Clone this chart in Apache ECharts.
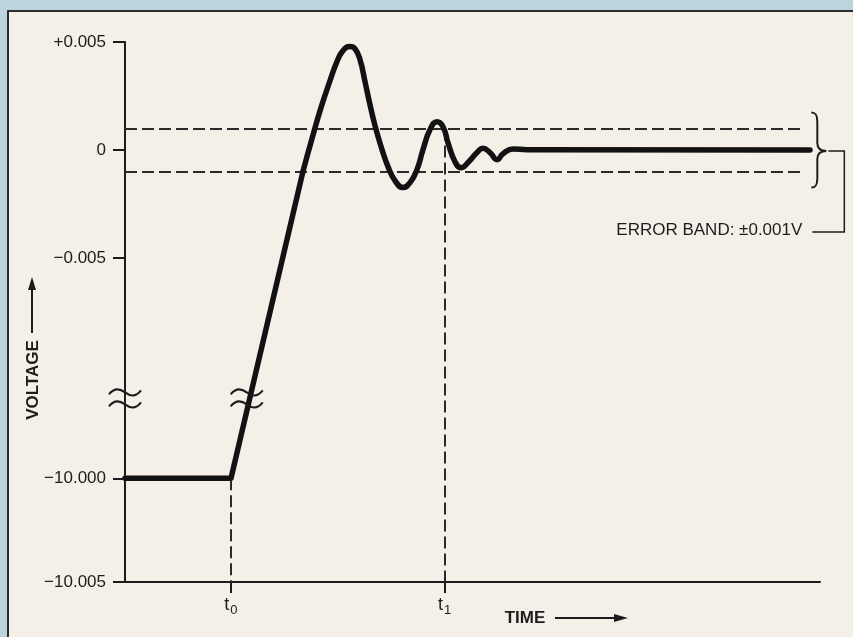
<!DOCTYPE html>
<html><head><meta charset="utf-8">
<script src="https://cdn.jsdelivr.net/npm/echarts@6/dist/echarts.min.js"></script>
<style>html,body{margin:0;padding:0;background:#bcd5dc;}#c{width:853px;height:637px;}</style>
</head><body><div id="c"></div>
<script>
// ---- data (time in arbitrary units 0..100, voltage in volts) ----
const yTickVolts = [-10.005, -10.000, -0.005, 0, 0.005];
const yTickLabels = ['\u221210.005', '\u221210.000', '\u22120.005', '0', '+0.005'];
const xMarkTimes = [15.25, 46.0];                     // t0, t1
const xMarkSubs = ['0', '1'];
const rampTimes = [0, 15.25, 25.6];
const rampVolts = [-10.000, -10.000, -0.0010];
const settleTimes = [25.6, 26.91, 28.2, 29.5, 30.5, 31.37, 32.37, 33.09, 33.81, 34.53, 35.25, 35.97, 36.98, 37.84, 38.85, 40.0, 41.01, 42.01, 42.88, 43.88, 44.89, 45.76, 46.47, 47.48, 48.35, 49.35, 50.65, 51.51, 52.52, 53.53, 54.39, 55.83, 57.84, 98.56];
const settleVolts = [-0.0010, 0.00053, 0.00196, 0.00321, 0.00409, 0.0046, 0.00479, 0.00469, 0.00419, 0.00317, 0.0021, 0.00113, 0.00002, -0.00077, -0.00142, -0.00174, -0.00151, -0.00091, 0.00002, 0.00094, 0.00131, 0.00108, 0.00034, -0.00054, -0.00082, -0.00058, -0.00012, 0.00008, -0.00012, -0.00045, -0.00017, 0.00005, 0.00001, 0];
const errorBand = 0.001;
const bandEndTime = 97.6;
const bandLabel = 'ERROR BAND: \u00b10.001V';
const breakLevel = -11.5; // display-scale position of the axis break

// broken scale: values near 0 in mV, values near -10 V placed below the break
function toAxis(v) { return v > -1 ? v * 1000 : -15.2 + (v + 10) * 1000 * 0.96; }

const FONT = '"Liberation Sans", Arial, Helvetica, sans-serif';
const INK = '#1c1c1c';

const yTickValues = yTickVolts.map(toAxis);
const rampData = rampTimes.map((t, i) => [t, toAxis(rampVolts[i])]);
const settleData = settleTimes.map((t, i) => [t, toAxis(settleVolts[i])]);
const r1 = rampData[1], r2 = rampData[2];
const breakTime = r1[0] + (breakLevel - r1[1]) / (r2[1] - r1[1]) * (r2[0] - r1[0]);
const axisMin = toAxis(yTickVolts[0]);

const dash = { type: [12, 5], width: 2, color: '#2a2a2a' };

const chart = echarts.init(document.getElementById('c'), null, { renderer: 'canvas' });
chart.setOption({
  animation: false,
  backgroundColor: 'transparent',
  grid: { left: 125, right: 33, top: 42, bottom: 55 },
  xAxis: {
    type: 'value', min: 0, max: 100,
    axisLine: { show: true, onZero: false, lineStyle: { color: INK, width: 2 } },
    splitLine: { show: false },
    axisTick: { show: true, customValues: xMarkTimes, length: 11, lineStyle: { color: INK, width: 2 } },
    axisLabel: {
      show: true, customValues: xMarkTimes, margin: 12,
      formatter: function (val) {
        const i = xMarkTimes.findIndex(x => Math.abs(x - val) < 1e-6);
        return '{t|t}{s|' + (i >= 0 ? xMarkSubs[i] : '') + '}';
      },
      rich: {
        t: { fontSize: 18, fontFamily: FONT, color: INK },
        s: { fontSize: 13, fontFamily: FONT, color: INK, padding: [10, 0, 0, 1] }
      }
    }
  },
  yAxis: {
    type: 'value', min: axisMin, max: toAxis(yTickVolts[4]),
    axisLine: { show: true, onZero: false, lineStyle: { color: INK, width: 2 } },
    splitLine: { show: false },
    axisTick: { show: true, customValues: yTickValues, length: 12, lineStyle: { color: INK, width: 2 } },
    axisLabel: {
      show: true, customValues: yTickValues, margin: 19,
      fontSize: 17, fontFamily: FONT, color: INK,
      formatter: function (val) {
        const i = yTickValues.findIndex(x => Math.abs(x - val) < 1e-6);
        return i >= 0 ? yTickLabels[i] : '';
      }
    }
  },
  graphic: [
    { type: 'rect', z: -10, shape: { x: 8, y: 11, width: 845, height: 626 }, style: { fill: '#f4f0e8' } },
    { type: 'line', z: -5, shape: { x1: 7, y1: 11, x2: 853, y2: 11 }, style: { stroke: '#2c2c2c', lineWidth: 2 } },
    { type: 'line', z: -5, shape: { x1: 8, y1: 10, x2: 8, y2: 637 }, style: { stroke: '#2c2c2c', lineWidth: 2 } },
    { type: 'text', x: 33, y: 380, rotation: Math.PI / 2,
      style: { text: 'VOLTAGE', font: 'bold 17px ' + FONT, fill: INK, align: 'center', verticalAlign: 'middle' } },
    { type: 'line', shape: { x1: 32, y1: 333, x2: 32, y2: 286 }, style: { stroke: INK, lineWidth: 2 } },
    { type: 'polygon', shape: { points: [[32, 277], [28, 290], [36, 290]] }, style: { fill: INK } },
    { type: 'text', x: 525, y: 618,
      style: { text: 'TIME', font: 'bold 17px ' + FONT, fill: INK, align: 'center', verticalAlign: 'middle' } },
    { type: 'line', shape: { x1: 555, y1: 618, x2: 616, y2: 618 }, style: { stroke: INK, lineWidth: 2 } },
    { type: 'polygon', shape: { points: [[628, 618], [614, 614], [614, 622]] }, style: { fill: INK } }
  ],
  series: [
    {
      type: 'line', name: 'ramp', data: rampData, smooth: false, showSymbol: false, symbol: 'none',
      lineStyle: { color: '#121212', width: 5.5, cap: 'round', join: 'round' }, z: 5
    },
    {
      type: 'line', name: 'settle', data: settleData, smooth: 0.5, showSymbol: false, symbol: 'none',
      lineStyle: { color: '#121212', width: 5.5, cap: 'round', join: 'round' }, z: 5
    },
    {
      type: 'line', name: 'guides', data: [], symbol: 'none',
      markLine: {
        silent: true, symbol: ['none', 'none'], label: { show: false }, lineStyle: dash,
        data: [
          [{ coord: [0, toAxis(errorBand)] }, { coord: [bandEndTime, toAxis(errorBand)] }],
          [{ coord: [0, toAxis(-errorBand)] }, { coord: [bandEndTime, toAxis(-errorBand)] }],
          [{ coord: [xMarkTimes[0], toAxis(rampVolts[0])] }, { coord: [xMarkTimes[0], axisMin] }],
          [{ coord: [xMarkTimes[1], toAxis(errorBand)] }, { coord: [xMarkTimes[1], axisMin] }]
        ]
      }
    },
    {
      type: 'custom', name: 'breaks', clip: false, z: 8,
      data: [[0, breakLevel], [breakTime, breakLevel]],
      renderItem: function (params, api) {
        const p = api.coord([api.value(0), api.value(1)]);
        const cx = p[0] - (params.dataIndex === 1 ? 3 : 0), cy = p[1];
        const wave = function (d) {
          const y = cy + d;
          return 'M' + (cx - 16) + ' ' + (y + 2) + ' C' + (cx - 10) + ' ' + (y - 6) + ' ' + (cx - 4) + ' ' + (y - 3) + ' ' + cx + ' ' + y +
            ' C' + (cx + 4) + ' ' + (y + 3) + ' ' + (cx + 10) + ' ' + (y + 6) + ' ' + (cx + 16) + ' ' + (y - 2);
        };
        return {
          type: 'group', children: [
            { type: 'path', shape: { pathData: wave(-6) }, style: { stroke: INK, lineWidth: 2, fill: null } },
            { type: 'path', shape: { pathData: wave(6) }, style: { stroke: INK, lineWidth: 2, fill: null } }
          ]
        };
      }
    },
    {
      type: 'custom', name: 'band', clip: false, z: 8,
      data: [[bandEndTime, 0]],
      renderItem: function (params, api) {
        const t = api.value(0);
        const pTop = api.coord([t, toAxis(errorBand)]);
        const pBot = api.coord([t, toAxis(-errorBand)]);
        const pMid = api.coord([t, toAxis(0)]);
        const x0 = pMid[0] + 8, top = pTop[1] - 16, bot = pBot[1] + 16, mid = pMid[1] + 1;
        const xv = x0 + 6, xt = x0 + 15;
        const brace = 'M' + x0 + ' ' + top + ' C' + (x0 + 4) + ' ' + top + ' ' + xv + ' ' + (top + 2) + ' ' + xv + ' ' + (top + 9) +
          ' L' + xv + ' ' + (mid - 8) + ' C' + xv + ' ' + (mid - 3) + ' ' + (xv + 3) + ' ' + mid + ' ' + xt + ' ' + mid +
          ' C' + (xv + 3) + ' ' + mid + ' ' + xv + ' ' + (mid + 3) + ' ' + xv + ' ' + (mid + 8) +
          ' L' + xv + ' ' + (bot - 9) + ' C' + xv + ' ' + (bot - 2) + ' ' + (x0 + 4) + ' ' + bot + ' ' + x0 + ' ' + bot;
        const ly = mid + 81;
        const conn = 'M' + (xt + 2) + ' ' + mid + ' L' + (xt + 18) + ' ' + mid + ' L' + (xt + 18) + ' ' + ly + ' L' + (x0 + 1) + ' ' + ly;
        return {
          type: 'group', children: [
            { type: 'path', shape: { pathData: brace }, style: { stroke: INK, lineWidth: 2, fill: null } },
            { type: 'path', shape: { pathData: conn }, style: { stroke: INK, lineWidth: 1.5, fill: null } },
            { type: 'text', style: { text: bandLabel, x: pMid[0] - 1, y: ly - 2, align: 'right', verticalAlign: 'middle',
              font: '17px ' + FONT, fill: INK } }
          ]
        };
      }
    }
  ]
});
</script></body></html>
